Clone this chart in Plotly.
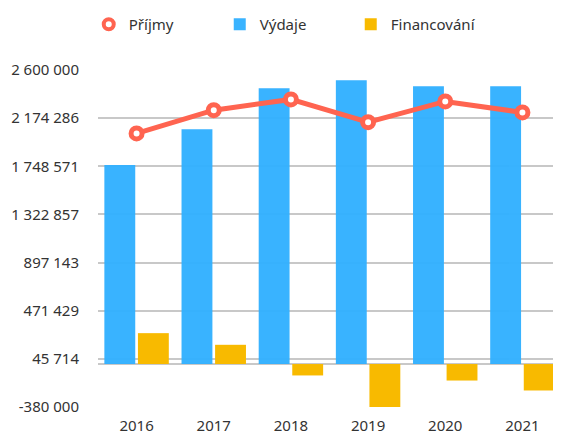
import plotly.graph_objects as go

years = ["2016", "2017", "2018", "2019", "2020", "2021"]
prijmy = [2039000, 2245000, 2340000, 2139000, 2322000, 2225000]
vydaje = [1759000, 2077000, 2439000, 2510000, 2457000, 2457000]
financovani = [273000, 170000, -101000, -380000, -146000, -234000]

tick_vals = [-380000, 45714, 471429, 897143, 1322857, 1748571, 2174286, 2600000]
tick_text = ["-380 000", "45 714", "471 429", "897 143", "1 322 857", "1 748 571", "2 174 286", "2 600 000"]

C_LINE = "#FF6450"
C_BLUE = "#33B1FF"
C_ORANGE = "#F8BA00"

fig = go.Figure()
fig.add_trace(go.Bar(x=years, y=vydaje, name="Výdaje", marker=dict(color=C_BLUE, line=dict(width=0)),
                     opacity=0.97, legendrank=2))
fig.add_trace(go.Bar(x=years, y=financovani, name="Financování", marker=dict(color=C_ORANGE, line=dict(width=0)),
                     legendrank=3))
fig.add_trace(go.Scatter(x=years, y=prijmy, name="Příjmy", mode="lines+markers",
                         line=dict(color=C_LINE, width=5),
                         marker=dict(size=11, color="white", line=dict(color=C_LINE, width=5)),
                         showlegend=False))
# legend-only marker entry for Příjmy
fig.add_trace(go.Scatter(x=[None], y=[None], name="Příjmy", mode="markers", legendrank=1,
                         marker=dict(size=10, color="white", line=dict(color=C_LINE, width=4))))

# page body has an 8px default margin; size the figure to fit the window
fig.update_layout(
    width=553, height=425,
    margin=dict(l=90, r=0, t=62, b=26),
    paper_bgcolor="white", plot_bgcolor="white",
    font=dict(family="Noto Sans", size=15, color="#333333"),
    barmode="group", bargap=0.13, bargroupgap=0.08,
    legend=dict(orientation="h", x=-0.02, xanchor="left", y=1.135, yanchor="middle",
                entrywidth=86, entrywidthmode="pixels", font=dict(size=15, color="#333333")),
    xaxis=dict(showgrid=False, zeroline=False, showline=False, ticks="",
               ticklabelstandoff=8, automargin=False),
    yaxis=dict(range=[-380000, 2600000], tickvals=tick_vals, ticktext=tick_text,
               showgrid=True, gridcolor="#c8c8c8", gridwidth=1.5,
               zeroline=True, zerolinecolor="#c8c8c8", zerolinewidth=1.5,
               showline=False, ticks="", ticklabelstandoff=18, automargin=False),
)

fig.write_html("out.html")
